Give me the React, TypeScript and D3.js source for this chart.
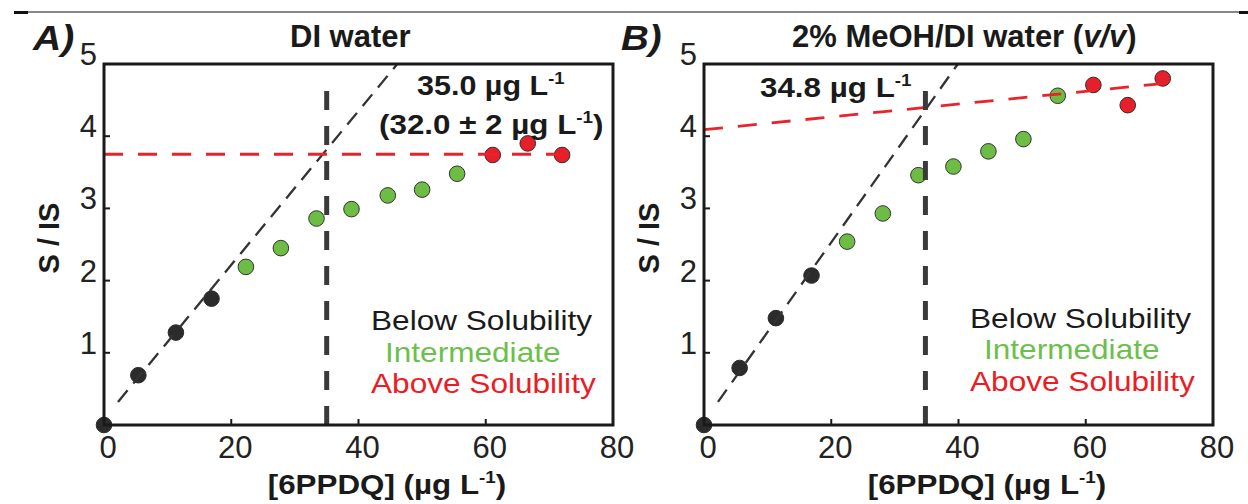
import React from 'react';
import * as d3 from 'd3';

const FONT = "'Liberation Sans', Arial, Helvetica, sans-serif";

// Axis ticks
const xTickValues = [0, 20, 40, 60, 80];
const yTickValues = [1, 2, 3, 4, 5];

// Panel A: DI water
const concA = [0, 5.4, 11.3, 16.9, 22.3, 27.8, 33.4, 38.9, 44.6, 50.0, 55.5, 61.1, 66.6, 72.0];
const ratioA = [0, 0.69, 1.28, 1.75, 2.19, 2.45, 2.86, 2.99, 3.18, 3.26, 3.48, 3.74, 3.90, 3.74];
const classA = ['below', 'below', 'below', 'below', 'mid', 'mid', 'mid', 'mid', 'mid', 'mid', 'mid', 'above', 'above', 'above'];
const linearFitA = [[2.2, 0.32], [46.1, 5.0]];
const plateauA = [[0, 3.75], [72, 3.75]];
const solubilityA = 35.0;
const solubilityTopA = 4.8;

// Panel B: 2% MeOH/DI water
const concB = [0, 5.6, 11.3, 16.9, 22.5, 28.1, 33.7, 39.2, 44.7, 50.2, 55.6, 61.2, 66.6, 72.1];
const ratioB = [0, 0.79, 1.48, 2.07, 2.54, 2.93, 3.46, 3.58, 3.79, 3.96, 4.56, 4.71, 4.43, 4.80];
const classB = ['below', 'below', 'below', 'below', 'mid', 'mid', 'mid', 'mid', 'mid', 'mid', 'mid', 'above', 'above', 'above'];
const linearFitB = [[2.2, 0.32], [39.9, 5.0]];
const plateauB = [[0, 4.09], [72.2, 4.73]];
const solubilityB = 34.8;
const solubilityTopB = 4.72;

const legendLabels = ['Below Solubility', 'Intermediate', 'Above Solubility'];

const FILL: Record<string, string> = { below: '#2b2b2b', mid: '#6dbd45', above: '#e5202a' };
const STROKE: Record<string, string> = { below: '#2b2b2b', mid: '#333333', above: '#3a2a2a' };
const LEGEND_COLORS = ['#1a1a1a', '#6cbf4b', '#ec1c24'];

function T(props: any) {
  const { x, y, sx = 1, anchor = 'start', size, weight = 'normal', fstyle = 'normal', fill = '#1a1a1a', children } = props;
  return (
    <g transform={`translate(${x},${y}) scale(${sx},1)`}>
      <text x={0} y={0} textAnchor={anchor} fontSize={size} fontWeight={weight} fontStyle={fstyle} fill={fill} fontFamily={FONT}>
        {children}
      </text>
    </g>
  );
}

function Unit() {
  return (
    <>
      {'µg L'}
      <tspan fontSize="0.6em" dy={-11}>-1</tspan>
    </>
  );
}

function Panel(props: any) {
  const { x0, conc, ratio, cls, fit, plateau, sol, solTop, legendPos } = props;
  const x = d3.scaleLinear().domain([0, 80]).range([x0, x0 + 509]);
  const y = d3.scaleLinear().domain([0, 5]).range([425, 64]);
  const line = d3.line<number[]>().x((d) => x(d[0])).y((d) => y(d[1]));
  return (
    <g>
      {/* points */}
      {conc.map((c: number, i: number) => (
        <circle key={i} cx={x(c)} cy={y(ratio[i])} r={7.8} fill={FILL[cls[i]]} stroke={STROKE[cls[i]]} strokeWidth={1} />
      ))}
      {/* fit lines */}
      <path d={line(fit) || ''} stroke="#333" strokeWidth={2.3} fill="none" strokeDasharray="15 9" />
      <path d={line(plateau) || ''} stroke="#e8232b" strokeWidth={2.8} fill="none" strokeDasharray="19 15" />
      <path d={line([[sol, 0], [sol, solTop]]) || ''} stroke="#3a3a3a" strokeWidth={5} fill="none" strokeDasharray="19 16" />
      {/* frame */}
      <rect x={x0} y={64} width={509} height={361} fill="none" stroke="#1a1a1a" strokeWidth={3} />
      {/* ticks */}
      {yTickValues.slice(0, 4).map((v) => (
        <line key={'yt' + v} x1={x0} x2={x0 + 6} y1={y(v)} y2={y(v)} stroke="#1a1a1a" strokeWidth={2} />
      ))}
      {xTickValues.slice(1, 4).map((v) => (
        <line key={'xt' + v} x1={x(v)} x2={x(v)} y1={425} y2={419} stroke="#1a1a1a" strokeWidth={2} />
      ))}
      {yTickValues.map((v) => (
        <T key={'yl' + v} x={x0 - 7} y={y(v) + 1} anchor="end" size={31} fill="#222">{v}</T>
      ))}
      {xTickValues.map((v) => (
        <T key={'xl' + v} x={x(v) + 4} y={458} anchor="middle" size={31} fill="#222">{v}</T>
      ))}
      {/* axis titles */}
      <g transform={`translate(${x0 - 45},238) rotate(-90)`}>
        <text textAnchor="middle" fontSize={29} fontWeight="bold" fill="#1a1a1a" fontFamily={FONT}>S / IS</text>
      </g>
      <T x={x0 + 283} y={494} anchor="middle" size={28} weight="bold" sx={1.12}>
        {'[6PPDQ] ('}<Unit /><tspan dy={11}>)</tspan>
      </T>
      {/* legend */}
      {legendLabels.map((lab, i) => (
        <T key={lab} x={legendPos[i][0]} y={legendPos[i][1]} size={27} sx={1.17} fill={LEGEND_COLORS[i]}>{lab}</T>
      ))}
    </g>
  );
}

export default function App() {
  return (
    <svg width={1248} height={504} style={{ position: 'absolute', left: 0, top: 0, background: '#fff' }}>
      <rect x={0} y={0} width={1248} height={504} fill="#fff" />
      <line x1={14} x2={1240} y1={12} y2={12} stroke="#111" strokeWidth={1.2} />
      <rect x={14} y={11} width={14} height={3} fill="#111" />
      <rect x={1239} y={11} width={9} height={3} fill="#111" />

      <Panel x0={104} conc={concA} ratio={ratioA} cls={classA} fit={linearFitA} plateau={plateauA}
        sol={solubilityA} solTop={solubilityTopA}
        legendPos={[[371, 330], [385, 362], [371, 393]]} />
      <Panel x0={704} conc={concB} ratio={ratioB} cls={classB} fit={linearFitB} plateau={plateauB}
        sol={solubilityB} solTop={solubilityTopB}
        legendPos={[[970, 328], [984, 359], [970, 391]]} />

      {/* panel letters and titles */}
      <T x={33} y={50} size={35} weight="bold" fstyle="italic" sx={1.12}>A)</T>
      <T x={621} y={50} size={35} weight="bold" fstyle="italic" sx={1.1}>B)</T>
      <T x={290} y={47} size={31} weight="bold">DI water</T>
      <T x={792} y={47} size={31} weight="bold">
        {'2% MeOH/DI water ('}<tspan fontStyle="italic">v/v</tspan>{')'}
      </T>

      {/* annotations */}
      <T x={417} y={95} size={28} weight="bold" sx={1.09}>{'35.0 '}<Unit /></T>
      <T x={379} y={134} size={28} weight="bold" sx={1.12}>{'(32.0 ± 2 '}<Unit /><tspan dy={11}>)</tspan></T>
      <T x={760} y={97} size={28} weight="bold" sx={1.12}>{'34.8 '}<Unit /></T>
    </svg>
  );
}
